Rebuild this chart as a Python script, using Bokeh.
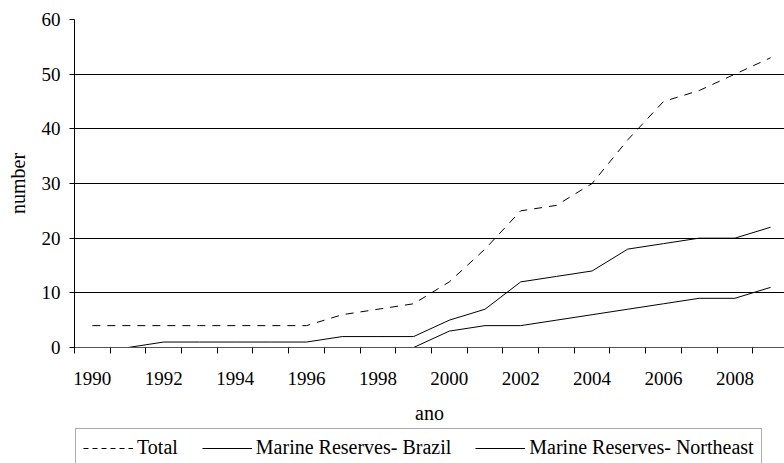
from bokeh.plotting import figure
from bokeh.models import FixedTicker, Legend, LegendItem, Range1d
from bokeh.layouts import column
from bokeh.embed import file_html
from bokeh.resources import INLINE

years = list(range(1990, 2010))
total = [4, 4, 4, 4, 4, 4, 4, 6, 7, 8, 12, 18, 25, 26, 30, 38, 45, 47, 50, 53]
brazil = [0, 0, 1, 1, 1, 1, 1, 2, 2, 2, 5, 7, 12, 13, 14, 18, 19, 20, 20, 22]
northeast = [0, 0, 0, 0, 0, 0, 0, 0, 0, 0, 3, 4, 4, 5, 6, 7, 8, 9, 9, 11]
label_years = [y for y in years if y % 2 == 0 and y <= 2008]
y_ticks = [0, 10, 20, 30, 40, 50, 60]
names = ["Total", "Marine Reserves- Brazil", "Marine Reserves- Northeast"]

FONT = "'Liberation Serif', 'Times New Roman', serif"
TOTAL_DASH = "8 7"

p = figure(width=784, height=428, output_backend="svg", toolbar_location=None,
           x_range=Range1d(1989.5, 2009.39), y_range=Range1d(0, 60),
           min_border_left=74, min_border_top=19, min_border_right=0,
           min_border_bottom=81)
p.outline_line_color = None
p.background_fill_color = "white"
p.border_fill_color = "white"

p.line(years, total, line_color="black", line_width=1, line_dash=TOTAL_DASH)
p.line(years, brazil, line_color="black", line_width=1)
p.line(years, northeast, line_color="black", line_width=1)

# x axis
xa = p.xaxis[0]
xa.ticker = FixedTicker(ticks=label_years,
                        minor_ticks=[y - 0.5 for y in years] + [2009.5])
xa.major_tick_out = 0
xa.major_tick_in = 0
xa.minor_tick_out = 6
xa.minor_tick_in = 0
xa.minor_tick_line_color = "black"
xa.axis_line_color = "#555555"
xa.major_label_standoff = 18
xa.major_label_text_font = FONT
xa.major_label_text_font_size = "19px"
xa.major_label_text_color = "black"
xa.axis_label = "ano"
xa.axis_label_text_font = FONT
xa.axis_label_text_font_size = "20px"
xa.axis_label_text_font_style = "normal"
xa.axis_label_text_color = "black"
xa.axis_label_standoff = 14

# y axis
ya = p.yaxis[0]
ya.ticker = FixedTicker(ticks=y_ticks)
ya.major_tick_out = 5
ya.major_tick_in = 0
ya.minor_tick_out = 0
ya.minor_tick_in = 0
ya.axis_line_color = "black"
ya.major_tick_line_color = "black"
ya.major_label_standoff = 9
ya.major_label_text_font = FONT
ya.major_label_text_font_size = "19px"
ya.major_label_text_color = "black"
ya.axis_label = "number"
ya.axis_label_text_font = FONT
ya.axis_label_text_font_size = "20px"
ya.axis_label_text_font_style = "normal"
ya.axis_label_text_color = "black"
ya.axis_label_standoff = 10

p.xgrid.grid_line_color = None
p.ygrid.grid_line_color = "black"
p.ygrid.grid_line_width = 1
p.ygrid.ticker = FixedTicker(ticks=y_ticks)

# legend strip below the chart (dummy renderers outside the visible range)
q = figure(width=784, height=35, output_backend="svg", toolbar_location=None,
           x_range=Range1d(0, 1), y_range=Range1d(0, 1),
           x_axis_location=None, y_axis_location=None,
           min_border_left=0, min_border_right=0, min_border_top=0,
           min_border_bottom=0)
q.grid.visible = False
q.outline_line_color = None
q.border_fill_color = "white"
q.background_fill_color = "white"
lt = q.line([5, 6], [5, 6], line_color="black", line_width=1, line_dash="5 4")
lb = q.line([5, 6], [5, 6], line_color="black", line_width=1)
ln = q.line([5, 6], [5, 6], line_color="black", line_width=1)

legend = Legend(items=[LegendItem(label=names[0], renderers=[lt]),
                       LegendItem(label=names[1], renderers=[lb]),
                       LegendItem(label=names[2], renderers=[ln])],
                orientation="horizontal", location=(1, -4),
                glyph_width=50, glyph_height=16, label_standoff=4, spacing=24,
                padding=7, margin=0,
                label_text_font=FONT, label_text_font_size="20px",
                label_text_color="black",
                border_line_color="#555555", border_line_width=1,
                background_fill_color="white", background_fill_alpha=1)
q.add_layout(legend, "center")

layout = column(p, q, spacing=0)
open("out.html", "w").write(file_html(layout, INLINE))
